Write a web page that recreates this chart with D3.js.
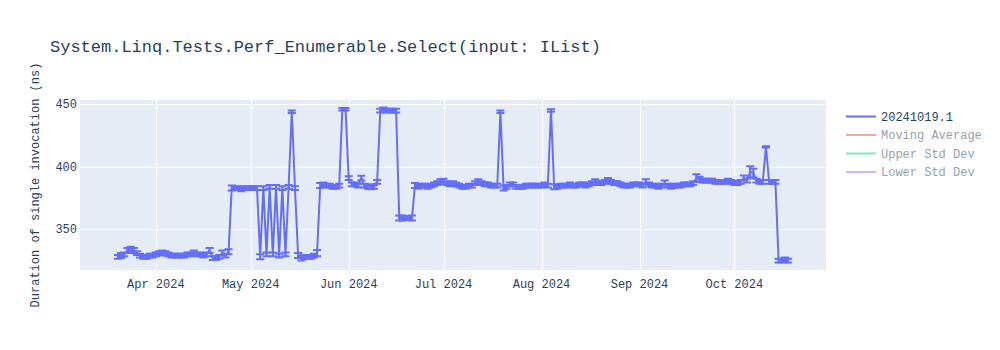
<!DOCTYPE html>
<html>
<head>
<meta charset="utf-8">
<script src="https://cdn.jsdelivr.net/npm/d3@7"></script>
<style>
    body { margin: 0; background: #fff; }
    #chart text { font-family: "Courier New", "Liberation Mono", monospace; fill: #2a3f5f; }
</style>
</head>
<body>
<div id="chart"></div>
<script>
// run dates (one point per run)
const runDates = [
    "2024-03-20","2024-03-21","2024-03-22","2024-03-23","2024-03-24","2024-03-25","2024-03-26","2024-03-27","2024-03-28","2024-03-29","2024-03-30","2024-03-31",
    "2024-04-01","2024-04-02","2024-04-03","2024-04-04","2024-04-05","2024-04-06","2024-04-07","2024-04-08","2024-04-09","2024-04-10",
    "2024-04-11","2024-04-12","2024-04-13","2024-04-14","2024-04-15","2024-04-16","2024-04-17","2024-04-18","2024-04-19","2024-04-20",
    "2024-04-21","2024-04-22","2024-04-23","2024-04-24","2024-04-25","2024-04-26","2024-04-27","2024-04-28","2024-04-29","2024-04-30",
    "2024-05-01","2024-05-02","2024-05-03","2024-05-04","2024-05-05","2024-05-06","2024-05-07","2024-05-08","2024-05-09","2024-05-10",
    "2024-05-11","2024-05-12","2024-05-13","2024-05-14","2024-05-15","2024-05-16","2024-05-17","2024-05-18","2024-05-19","2024-05-20",
    "2024-05-21","2024-05-22","2024-05-23","2024-05-24","2024-05-25","2024-05-26","2024-05-27","2024-05-28","2024-05-29","2024-05-30","2024-05-31",
    "2024-06-01","2024-06-02","2024-06-03","2024-06-04","2024-06-05","2024-06-06","2024-06-07","2024-06-08","2024-06-09","2024-06-10",
    "2024-06-11","2024-06-12","2024-06-13","2024-06-14","2024-06-15","2024-06-16","2024-06-17","2024-06-18","2024-06-19","2024-06-20",
    "2024-06-21","2024-06-22","2024-06-23","2024-06-24","2024-06-25","2024-06-26","2024-06-27","2024-06-28","2024-06-29","2024-06-30",
    "2024-07-01","2024-07-02","2024-07-03","2024-07-04","2024-07-05","2024-07-06","2024-07-07","2024-07-08","2024-07-09","2024-07-10",
    "2024-07-11","2024-07-12","2024-07-13","2024-07-14","2024-07-15","2024-07-16","2024-07-17","2024-07-18","2024-07-19","2024-07-20",
    "2024-07-21","2024-07-22","2024-07-23","2024-07-24","2024-07-25","2024-07-26","2024-07-27","2024-07-28","2024-07-29","2024-07-30","2024-07-31",
    "2024-08-01","2024-08-02","2024-08-03","2024-08-04","2024-08-05","2024-08-06","2024-08-07","2024-08-08","2024-08-09","2024-08-10",
    "2024-08-11","2024-08-12","2024-08-13","2024-08-14","2024-08-15","2024-08-16","2024-08-17","2024-08-18","2024-08-19","2024-08-20",
    "2024-08-21","2024-08-22","2024-08-23","2024-08-24","2024-08-25","2024-08-26","2024-08-27","2024-08-28","2024-08-29","2024-08-30","2024-08-31",
    "2024-09-01","2024-09-02","2024-09-03","2024-09-04","2024-09-05","2024-09-06","2024-09-07","2024-09-08","2024-09-09","2024-09-10",
    "2024-09-11","2024-09-12","2024-09-13","2024-09-14","2024-09-15","2024-09-16","2024-09-17","2024-09-18","2024-09-19","2024-09-20",
    "2024-09-21","2024-09-22","2024-09-23","2024-09-24","2024-09-25","2024-09-26","2024-09-27","2024-09-28","2024-09-29","2024-09-30",
    "2024-10-01","2024-10-02","2024-10-03","2024-10-04","2024-10-05","2024-10-06","2024-10-07","2024-10-08","2024-10-09","2024-10-10",
    "2024-10-11","2024-10-12","2024-10-13","2024-10-14","2024-10-15","2024-10-16","2024-10-17","2024-10-18"
];

// duration in ns, per run
const runValues = [
    328,329,330,333,334,333,331,329,328,328,329,329,
    330,331,331,331,330,329,329,329,329,329,330,330,331,330,330,329,330,333,327,327,328,331,329,332,383,383,383,382,383,383,
    383,383,383,328,383,330,384,330,384,329,383,330,384,444,383,329,327,328,328,328,329,331,385,386,385,385,384,384,385,446,446,
    391,386,386,385,391,385,384,384,384,388,445,446,445,445,445,445,359,359,359,359,359,385,384,385,385,384,385,386,387,388,
    389,387,386,387,386,385,384,384,385,385,387,388,387,386,386,385,385,385,444,383,384,386,386,384,384,384,385,385,385,385,385,
    385,386,385,445,384,384,385,385,385,386,385,385,386,386,385,386,387,388,387,387,388,389,388,387,387,386,385,385,385,386,386,
    386,385,388,386,385,385,384,385,387,385,384,385,385,385,386,386,386,387,391,390,389,389,389,389,388,388,388,388,389,388,
    387,387,388,391,389,396,395,389,388,388,416,388,388,388,325,325,326,325
];

// error (+/-) per run
const runErrors = [
    1.5,2,1.5,2,2,2,1.5,1.5,1.5,1.5,1.5,1.5,
    1.5,1.5,2,1.5,1.5,1.5,1.5,1.5,1.5,1.5,1.5,1.5,2,1.5,1.5,1.5,1.5,2,1.5,1.5,1.5,2,1.5,2,2,1.5,1.5,1.5,1.5,1.5,
    1.5,1.5,1.5,2,1.5,1.5,1.5,1.5,1.5,1.5,1.5,1.5,1.5,1,1.5,2,2,1.5,1.5,1.5,1.5,2.5,2,1.5,1.5,1.5,1.5,1.5,1.5,1,1,
    1.5,1.5,1.5,1.5,1.8,1.5,1.5,2,1.5,1.5,1.5,1.5,1.5,1.5,1.5,1.5,2,2,1.5,1.5,2,2,1.5,1.5,1.5,1.5,1.5,1.5,1.5,2,
    1.5,1.5,1.5,1.5,1.5,1.5,1.5,1.5,1.5,1.5,1.5,2,1.5,1.5,1.5,1.5,1.5,1.5,1,2,1.5,1.5,1.5,1.5,1.5,1.5,1.5,1.5,1.5,1.5,1.5,
    1.5,1.5,1.5,1,2,1.5,1.5,1.5,1.5,1.5,1.5,1.5,1.5,1.5,1.5,1.5,1.5,2,1.5,1.5,1.5,2,1.5,1.5,1.5,1.5,1.5,1.5,1.5,1.5,1.5,
    1.5,1.5,2,1.5,1.5,1.5,1.5,1.5,2,1.5,1.5,1.5,1.5,1.5,1.5,1.5,1.5,1.5,3,2,1.5,1.5,1.5,1.5,1.5,1.5,1.5,1.5,1.5,1.5,
    1.5,1.5,1.5,2,1.5,4.5,3.5,1.5,1.5,1.5,0.5,1.5,1.5,1.5,1.5,1.5,1.5,1.5
];

const yTicks = [350, 400, 450];
const yRange = [317.4, 453.4];

const legendNames = ["20241019.1", "Moving Average", "Upper Std Dev", "Lower Std Dev"];
const legendColors = ["#636efa", "#EF553B", "#00cc96", "#ab63fa"];
const legendVisible = [true, false, false, false];

const chartTitle = "System.Linq.Tests.Perf_Enumerable.Select(input: IList)";
const yTitle = "Duration of single invocation (ns)";

document.addEventListener('DOMContentLoaded', function () {
    var parseDate = d3.timeParse("%Y-%m-%d");
    var data = runDates.map(function (d, i) {
        return { date: parseDate(d), value: runValues[i], err: runErrors[i] };
    });
    createChart(data);
});

function createChart(data) {
    var margin = { top: 100, right: 174, bottom: 80, left: 80 },
        width = 1000 - margin.left - margin.right,
        height = 350 - margin.top - margin.bottom;

    var root = d3.select("#chart")
        .append("svg")
        .attr("width", 1000)
        .attr("height", 350);

    var svg = root.append("g")
        .attr("transform", "translate(" + margin.left + "," + margin.top + ")");

    // x padded by 12 days each side like plotly autorange
    var first = d3.min(data, function (d) { return d.date; });
    var last = d3.max(data, function (d) { return d.date; });
    var x = d3.scaleTime()
        .domain([d3.timeDay.offset(first, -12), d3.timeDay.offset(last, 12)])
        .range([0, width]);

    var y = d3.scaleLinear()
        .domain(yRange)
        .range([height, 0]);

    svg.append("rect")
        .attr("width", width)
        .attr("height", height)
        .attr("fill", "#E5ECF6");

    //grid
    var xTicks = x.ticks(d3.timeMonth.every(1));
    svg.selectAll(".xgrid")
        .data(xTicks)
        .enter().append("line")
        .attr("x1", function (d) { return Math.round(x(d)) + 0.5; })
        .attr("x2", function (d) { return Math.round(x(d)) + 0.5; })
        .attr("y1", 0).attr("y2", height)
        .attr("stroke", "#fff").attr("stroke-width", 1);

    svg.selectAll(".ygrid")
        .data(yTicks)
        .enter().append("line")
        .attr("x1", 0).attr("x2", width)
        .attr("y1", function (d) { return Math.round(y(d)) + 0.5; })
        .attr("y2", function (d) { return Math.round(y(d)) + 0.5; })
        .attr("stroke", "#fff").attr("stroke-width", 1);

    //tick labels
    var fmt = d3.timeFormat("%b %Y");
    svg.selectAll(".xlab")
        .data(xTicks)
        .enter().append("text")
        .attr("x", function (d) { return x(d); })
        .attr("y", height + 18)
        .attr("text-anchor", "middle")
        .style("font-size", "12px")
        .text(function (d) { return fmt(d); });

    svg.selectAll(".ylab")
        .data(yTicks)
        .enter().append("text")
        .attr("x", -3)
        .attr("y", function (d) { return y(d); })
        .attr("dy", "0.35em")
        .attr("text-anchor", "end")
        .style("font-size", "12px")
        .text(function (d) { return d; });

    svg.append("clipPath").attr("id", "clip")
        .append("rect").attr("width", width).attr("height", height);

    var plot = svg.append("g").attr("clip-path", "url(#clip)");

    // error bars with caps
    plot.selectAll(".err")
        .data(data)
        .enter().append("path")
        .attr("fill", "none")
        .attr("stroke", "#636efa")
        .attr("stroke-width", 2)
        .attr("d", function (d) {
            var cx = x(d.date), y0 = y(d.value - d.err), y1 = y(d.value + d.err);
            return "M" + cx + "," + y0 + "V" + y1 +
                "M" + (cx - 4) + "," + y0 + "H" + (cx + 4) +
                "M" + (cx - 4) + "," + y1 + "H" + (cx + 4);
        });

    plot.append("path")
        .datum(data)
        .attr("fill", "none")
        .attr("stroke", "#636efa")
        .attr("stroke-width", 2)
        .attr("stroke-linejoin", "round")
        .attr("d", d3.line()
            .x(function (d) { return x(d.date); })
            .y(function (d) { return y(d.value); }));

    //titles
    root.append("text")
        .attr("x", 50)
        .attr("y", 52)
        .style("font-size", "17px")
        .text(chartTitle);

    root.append("text")
        .attr("transform", "translate(35," + (margin.top + height / 2) + ") rotate(-90)")
        .attr("dy", "0.35em")
        .attr("text-anchor", "middle")
        .style("font-size", "12px")
        .text(yTitle);

    //legend
    var legend = root.append("g")
        .attr("transform", "translate(" + (margin.left + width + 15) + ",116.5)");

    var items = legend.selectAll(".item")
        .data(legendNames)
        .enter().append("g")
        .attr("transform", function (d, i) { return "translate(0," + (i * 18.5) + ")"; })
        .style("opacity", function (d, i) { return legendVisible[i] ? 1 : 0.5; });

    items.append("line")
        .attr("x1", 5).attr("x2", 35)
        .attr("y1", 0).attr("y2", 0)
        .attr("stroke", function (d, i) { return legendColors[i]; })
        .attr("stroke-width", 2);

    items.append("text")
        .attr("x", 40)
        .attr("dy", "0.35em")
        .style("font-size", "12px")
        .text(function (d) { return d; });
}
</script>
</body>
</html>
